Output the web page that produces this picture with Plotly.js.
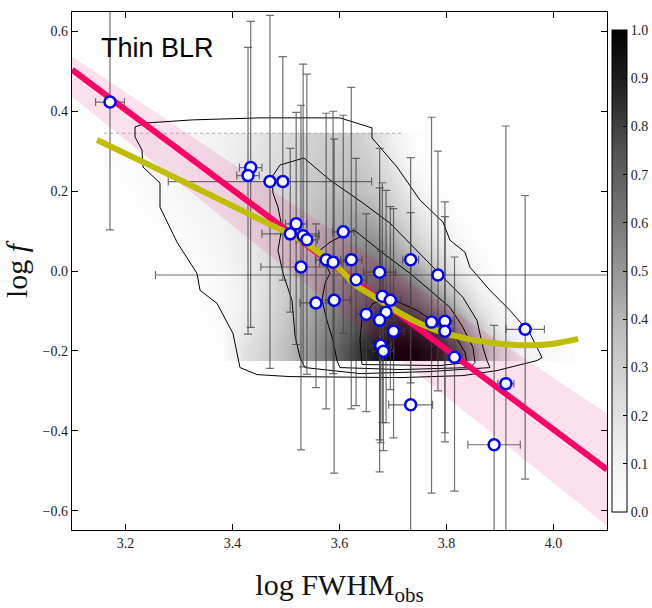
<!DOCTYPE html>
<html><head><meta charset="utf-8">
<script src="https://cdn.plot.ly/plotly-3.0.1.min.js"></script>
<style>html,body{margin:0;padding:0;background:#fff;}#chart{width:652px;height:608px;}</style>
</head><body><div id="chart"></div>
<script>
const fwhm    = [3.171,3.434,3.429,3.470,3.494,3.519,3.508,3.532,3.539,3.607,3.528,3.575,3.588,3.622,3.631,3.733,3.675,3.784,3.556,3.590,3.680,3.695,3.650,3.687,3.675,3.701,3.772,3.797,3.797,3.677,3.682,3.815,3.947,3.911,3.733,3.889];
const logf    = [0.423,0.259,0.239,0.224,0.224,0.118,0.093,0.088,0.078,0.098,0.010,0.028,0.022,0.028,-0.022,0.028,-0.003,-0.010,-0.080,-0.073,-0.063,-0.073,-0.108,-0.103,-0.123,-0.151,-0.128,-0.126,-0.151,-0.186,-0.201,-0.216,-0.146,-0.282,-0.335,-0.435];
const logfTop = [0.70,0.625,0.560,0.640,0.537,0.397,0.307,0.518,0.493,0.39,0.415,0.395,0.40,0.46,0.282,0.284,0.307,0.30,0.118,0.33,0.221,0.161,0.143,0.202,0.208,0.156,0.385,0.173,0.136,0.05,0.0,0.035,0.189,0.363,0.146,-0.136];
const logfBot = [0.103,-0.141,-0.158,-0.244,-0.023,-0.184,-0.103,-0.24,-0.259,-0.156,-0.448,-0.345,-0.257,-0.345,-0.337,-0.28,-0.423,-0.30,-0.292,-0.506,-0.38,-0.297,-0.352,-0.38,-0.503,-0.418,-0.556,-0.405,-0.428,-0.43,-0.45,-0.551,-0.521,-0.75,-0.75,-0.75];
const fwhmErr = [0.027,0.021,0.021,0.19,0.01,0.02,0.053,0.03,0.02,0.02,0.075,0.02,0.025,0.02,0.02,0.015,0.03,0.528,0.03,0.03,0.02,0.02,0.02,0.02,0.03,0.02,0.02,0.015,0.015,0.02,0.02,0.015,0.036,0.015,0.041,0.049];

// ---- linear relation and its band ----
const fitX   = [3.1, 4.1];
const fitY   = [0.504, -0.497];
const bandUp = [0.537, -0.357];
const bandLo = [0.436, -0.638];

// ---- model curve ----
const curveX = [3.147,3.25,3.35,3.45,3.53,3.60,3.63,3.66,3.70,3.74,3.78,3.84,3.90,3.96,4.00,4.046];
const curveY = [0.328,0.262,0.196,0.13,0.075,0.005,-0.035,-0.06,-0.095,-0.125,-0.148,-0.17,-0.182,-0.186,-0.182,-0.17];

// ---- density map (Greys) ----
const mapX = [3.18,3.22,3.26,3.30,3.34,3.38,3.42,3.46,3.50,3.54,3.58,3.62,3.66,3.70,3.74,3.78,3.82,3.86,3.90,3.94,3.98,4.02];
const mapY = [-0.196,-0.139,-0.082,-0.025,0.032,0.089,0.146,0.203,0.260,0.317];
const mapZ = [
 [0,0,0,0,0,0.02,0.2,0.28,0.37,0.48,0.62,0.77,0.9,0.99,1.0,0.92,0.75,0.45,0.25,0.12,0.06,0.03],
 [0,0,0,0,0.01,0.03,0.15,0.25,0.34,0.45,0.57,0.7,0.82,0.9,0.88,0.78,0.55,0.32,0.14,0.05,0.01,0],
 [0,0,0,0,0.02,0.05,0.13,0.23,0.32,0.42,0.53,0.64,0.74,0.78,0.7,0.55,0.38,0.18,0.06,0.01,0,0],
 [0,0,0,0.01,0.03,0.06,0.13,0.22,0.31,0.4,0.5,0.6,0.65,0.65,0.55,0.38,0.22,0.08,0.02,0,0,0],
 [0,0,0,0.02,0.04,0.08,0.14,0.22,0.3,0.38,0.46,0.55,0.58,0.5,0.38,0.25,0.12,0.04,0,0,0,0],
 [0,0,0.01,0.03,0.06,0.1,0.15,0.22,0.29,0.36,0.43,0.5,0.5,0.4,0.27,0.14,0.05,0.01,0,0,0,0],
 [0,0.01,0.03,0.05,0.08,0.11,0.16,0.22,0.28,0.34,0.4,0.45,0.42,0.3,0.2,0.08,0.02,0,0,0,0,0],
 [0.01,0.03,0.05,0.07,0.09,0.12,0.17,0.22,0.27,0.32,0.36,0.38,0.33,0.25,0.12,0.03,0,0,0,0,0,0],
 [0.02,0.04,0.06,0.07,0.09,0.12,0.17,0.22,0.26,0.3,0.33,0.35,0.3,0.18,0.05,0,0,0,0,0,0,0],
 [0.03,0.05,0.06,0.07,0.09,0.11,0.15,0.2,0.24,0.28,0.31,0.32,0.25,0.12,0.02,0,0,0,0,0,0,0]
];
const mapTopX = [3.16, 3.72];
const mapTopY = [0.345, 0.345];

// ---- contour lines ----
const c1x = [3.2178,3.2402,3.3262,3.4514,3.6009,3.6252,3.6607,3.6607,3.7075,3.7505,3.7935,3.8065,3.8346,3.8439,3.8813,3.9187,3.9561,3.9785,3.9692,3.8944,3.8308,3.7131,3.5075,3.4458,3.4140,3.4009,3.3710,3.3393,3.3336,3.2963,3.2645,3.2645,3.2327,3.2308,3.2178,3.2178];
const c1y = [0.3608,0.3708,0.3784,0.3834,0.3834,0.3734,0.3583,0.3332,0.2604,0.1775,0.1223,0.0771,0.0470,0.0093,-0.0484,-0.0987,-0.1564,-0.2167,-0.2242,-0.2493,-0.2619,-0.2669,-0.2644,-0.2594,-0.2418,-0.1564,-0.0811,-0.0484,-0.0058,0.0721,0.1599,0.2202,0.2604,0.3030,0.3357,0.3608];
const c2x = [3.4888,3.5336,3.5822,3.6439,3.6944,3.7449,3.7935,3.8308,3.8570,3.8682,3.8757,3.8813,3.7692,3.6383,3.5355,3.5262,3.5168,3.5112,3.5037,3.4944,3.4850,3.4925,3.4850,3.4757,3.4738,3.4888];
const c2y = [0.2654,0.2830,0.2277,0.1700,0.1198,0.0520,-0.0158,-0.0660,-0.1238,-0.1916,-0.2242,-0.2418,-0.2518,-0.2569,-0.2418,-0.2167,-0.1614,-0.0736,-0.0409,-0.0058,0.0520,0.1097,0.1599,0.1951,0.2352,0.2654];
const c3x = [3.5636,3.5822,3.6252,3.6327,3.6813,3.7318,3.7692,3.8065,3.8308,3.8495,3.8533,3.8439,3.7131,3.6009,3.5953,3.5879,3.5766,3.5673,3.5729,3.5822,3.5636];
const c3y = [0.0520,0.0721,0.1022,0.0972,0.0445,-0.0058,-0.0484,-0.0911,-0.1413,-0.1916,-0.2292,-0.2418,-0.2468,-0.2418,-0.2242,-0.1740,-0.1238,-0.0736,-0.0309,-0.0058,0.0520];
const c4x = [3.6421,3.6383,3.6421,3.6626,3.6944,3.7449,3.7879,3.8215,3.8346,3.8383,3.7879,3.6421];
const c4y = [-0.2342,-0.1740,-0.1163,-0.0811,-0.0685,-0.0987,-0.1363,-0.1740,-0.2041,-0.2292,-0.2368,-0.2342];

const cbTicks = [0,0.1,0.2,0.3,0.4,0.5,0.6,0.7,0.8,0.9,1.0];

// ---- build ----
const serif = 'Liberation Serif, DejaVu Serif, serif';
const greys = [[0,'#ffffff'],[0.125,'#f0f0f0'],[0.25,'#d9d9d9'],[0.375,'#bdbdbd'],[0.5,'#969696'],[0.625,'#737373'],[0.75,'#525252'],[0.875,'#252525'],[1,'#000000']];
const errColor = 'rgba(65,65,65,0.75)';
const contourLine = {color:'#000', width:1};

const traces = [
  {type:'heatmap', x:mapX, y:mapY, z:mapZ, zmin:0, zmax:1, zsmooth:'best', colorscale:greys, hoverinfo:'skip',
   colorbar:{x:1.0093, xanchor:'left', xpad:0, y:0.5, yanchor:'middle', ypad:0, thickness:15, len:482, lenmode:'pixels',
     outlinewidth:1, outlinecolor:'#000', tickvals:cbTicks, tickformat:'.1f', ticks:'inside', ticklen:4, tickcolor:'#000',
     tickfont:{family:serif, size:14, color:'#222'}}},
  {type:'scatter', mode:'lines', x:fitX, y:bandLo, line:{width:0}, hoverinfo:'skip'},
  {type:'scatter', mode:'lines', x:fitX, y:bandUp, line:{width:0}, fill:'tonexty', fillcolor:'rgba(235,0,110,0.12)', hoverinfo:'skip'},
  {type:'scatter', mode:'lines', x:mapTopX, y:mapTopY, line:{color:'#aaaaaa', width:1, dash:'dot'}},
  {type:'scatter', mode:'lines', x:c1x, y:c1y, line:contourLine},
  {type:'scatter', mode:'lines', x:c2x, y:c2y, line:contourLine},
  {type:'scatter', mode:'lines', x:c3x, y:c3y, line:contourLine},
  {type:'scatter', mode:'lines', x:c4x, y:c4y, line:contourLine},
  {type:'scatter', mode:'markers', x:fwhm, y:logf, marker:{size:1, opacity:0},
   error_y:{type:'data', symmetric:false, array:logf.map((v,i)=>logfTop[i]-v), arrayminus:logf.map((v,i)=>v-logfBot[i]), color:errColor, thickness:1.2, width:4},
   error_x:{type:'data', array:fwhmErr, color:errColor, thickness:1.2, width:4}},
  {type:'scatter', mode:'lines', x:fitX, y:fitY, line:{color:'#ff0066', width:6}},
  {type:'scatter', mode:'lines', x:curveX, y:curveY, line:{color:'#bfbf00', width:6, shape:'spline'}},
  {type:'scatter', mode:'markers', x:fwhm, y:logf, marker:{size:11, color:'#ffffff', line:{color:'#0000ff', width:2.5}}}
];

const axisCommon = {showgrid:false, zeroline:false, showline:true, linecolor:'#000', linewidth:1.2, mirror:'ticks',
  ticks:'inside', ticklen:6, tickwidth:1, tickcolor:'#000', tickformat:'.1f', tickfont:{family:serif, size:14, color:'#222'}};

const layout = {
  width:652, height:608, margin:{l:72, r:45, t:12, b:78, autoexpand:false}, showlegend:false,
  paper_bgcolor:'#fff', plot_bgcolor:'#fff',
  xaxis:Object.assign({}, axisCommon, {range:[3.1,4.1], dtick:0.2, tick0:3.0, automargin:false,
    title:{text:'log FWHM<sub>obs</sub>', font:{family:serif, size:30, color:'#111'}, standoff:24}}),
  yaxis:Object.assign({}, axisCommon, {range:[-0.6485,0.6485], dtick:0.2, tick0:0, automargin:false,
    title:{text:'log <i>f</i>', font:{family:serif, size:30, color:'#111'}, standoff:6}}),
  annotations:[{xref:'paper', yref:'paper', x:0.05, y:0.9305, xanchor:'left', yanchor:'middle', showarrow:false,
    text:'Thin BLR', font:{family:'Liberation Sans, Arial, sans-serif', size:27, color:'#000'}}]
};

Plotly.newPlot('chart', traces, layout, {displayModeBar:false, staticPlot:true});
</script></body></html>
